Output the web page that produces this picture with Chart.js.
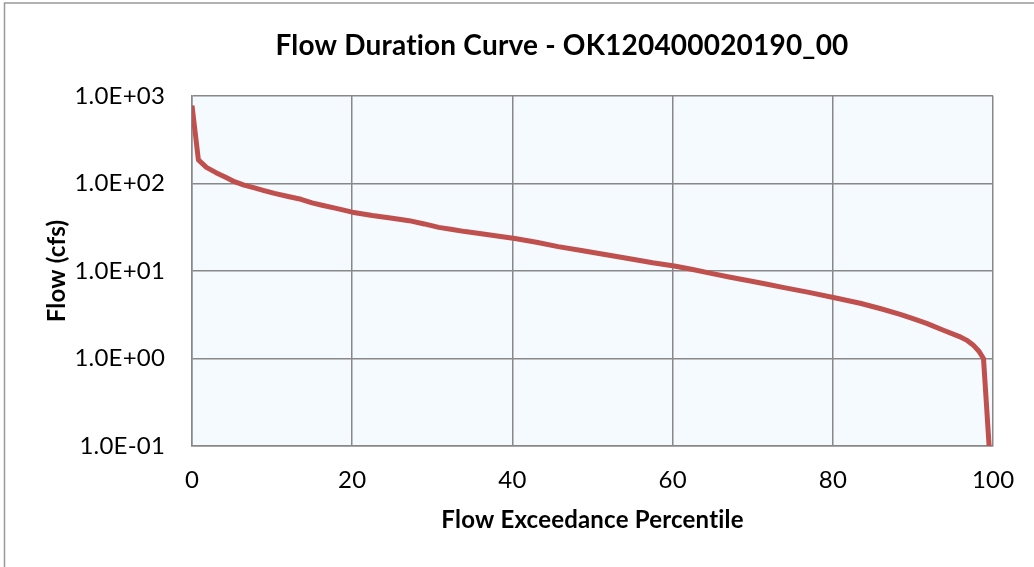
<!DOCTYPE html>
<html>
<head>
<meta charset="utf-8">
<script src="https://cdn.jsdelivr.net/npm/chart.js@4/dist/chart.umd.min.js"></script>
<style>
  html, body { margin: 0; padding: 0; background: #ffffff; }
  #wrap { width: 1034px; height: 567px; position: relative; }
</style>
</head>
<body>
<div id="wrap"><canvas id="c" width="1034" height="567"></canvas></div>
<script>
const chartTitle = 'Flow Duration Curve - OK120400020190_00';
const xAxisTitle = 'Flow Exceedance Percentile';
const yAxisTitle = 'Flow (cfs)';

const percentiles = [0, 0.8, 1.8, 3.0, 4.2, 5.3, 6.5, 7.8, 9.0, 10.3, 12.0, 13.6, 15.0, 16.1, 18.0, 20.0,
  22.5, 25.0, 27.1, 29.0, 30.8, 32.5, 34.1, 37.0, 40.3, 43.0, 45.7, 48.8, 51.9, 55.0, 57.5, 60.2,
  62.5, 64.8, 67.2, 69.7, 71.8, 73.9, 77.0, 80.5, 83.4, 86.0, 88.4, 90.0, 91.7, 93.8, 95.8, 96.8,
  97.5, 98.2, 98.8, 99.5];
const flows = [780, 186, 153, 133, 118, 105, 96, 89, 83, 77, 71, 66, 60, 56.8, 52, 47,
  43, 40, 37.6, 34.5, 31.5, 29.8, 28.2, 26, 23.5, 21.3, 19, 17, 15.2, 13.6, 12.4, 11.4,
  10.4, 9.4, 8.5, 7.7, 7.05, 6.45, 5.7, 4.88, 4.28, 3.7, 3.2, 2.85, 2.52, 2.1, 1.78, 1.6,
  1.43, 1.22, 1.0, 0.1];

const xTicks = [0, 20, 40, 60, 80, 100];
const yTicks = [0.1, 1, 10, 100, 1000];

const FONT = 'Lato, Carlito, Calibri, "Open Sans", sans-serif';
const GRID = '#888888';

function sci(v) {
  const e = Math.round(Math.log10(v));
  const m = v / Math.pow(10, e);
  const sign = e < 0 ? '-' : '+';
  const abs = Math.abs(e);
  return m.toFixed(1) + 'E' + sign + (abs < 10 ? '0' : '') + abs;
}

const plotBg = {
  id: 'plotBg',
  afterLayout(chart) {
    if (chart.titleBlock) chart.titleBlock.left = 127;
  },
  beforeDraw(chart) {
    const {ctx, chartArea: a} = chart;
    ctx.save();
    ctx.fillStyle = '#ffffff';
    ctx.fillRect(0, 0, chart.width, chart.height);
    ctx.strokeStyle = '#999999';
    ctx.lineWidth = 1.5;
    ctx.beginPath();
    ctx.moveTo(4.5, chart.height);
    ctx.lineTo(4.5, 3);
    ctx.lineTo(chart.width, 3);
    ctx.stroke();
    ctx.fillStyle = '#f5fafe';
    ctx.fillRect(a.left, a.top, a.right - a.left, a.bottom - a.top);
    ctx.restore();
    if ('letterSpacing' in ctx) ctx.letterSpacing = '0.2px';
  }
};

new Chart(document.getElementById('c'), {
  type: 'line',
  data: {
    datasets: [{
      data: percentiles.map((p, i) => ({x: p, y: flows[i]})),
      borderColor: '#c0504d',
      borderWidth: 5,
      pointRadius: 0,
      tension: 0,
      fill: false,
      borderJoinStyle: 'round',
      borderCapStyle: 'butt'
    }]
  },
  options: {
    responsive: false,
    animation: false,
    devicePixelRatio: 1,
    layout: { padding: { left: 0, right: 37, top: 0, bottom: 0 } },
    plugins: {
      legend: { display: false },
      tooltip: { enabled: false },
      title: {
        display: true,
        text: chartTitle,
        color: '#000000',
        font: { family: FONT, size: 28, weight: 'bold', lineHeight: 1.2 },
        padding: { top: 29, bottom: 33.4 }
      }
    },
    scales: {
      x: {
        type: 'linear',
        min: 0, max: 100,
        afterFit(s) { s.height = 121; },
        afterBuildTicks(s) { s.ticks = xTicks.map(v => ({value: v})); },
        ticks: {
          color: '#000000',
          font: { family: FONT, size: 24 },
          padding: 20,
          maxRotation: 0
        },
        grid: { color: GRID, lineWidth: 1.5, drawTicks: false },
        border: { display: true, color: GRID, width: 1.5 },
        title: {
          display: true,
          text: xAxisTitle,
          color: '#000000',
          font: { family: FONT, size: 24, weight: 'bold', lineHeight: 1.2 },
          padding: { top: 0, bottom: 32.6 }
        }
      },
      y: {
        type: 'logarithmic',
        min: 0.1, max: 1000,
        afterFit(s) { s.width = 192; },
        afterBuildTicks(s) { s.ticks = yTicks.map(v => ({value: v, major: true})); },
        ticks: {
          color: '#000000',
          font: { family: FONT, size: 24 },
          padding: 27,
          callback: (v) => sci(v)
        },
        grid: { color: GRID, lineWidth: 1.5, drawTicks: false },
        border: { display: true, color: GRID, width: 1.5 },
        title: {
          display: true,
          text: yAxisTitle,
          color: '#000000',
          font: { family: FONT, size: 24, weight: 'bold', lineHeight: 1.2 },
          padding: { top: 42.6, bottom: 0 }
        }
      }
    }
  },
  plugins: [plotBg]
});
</script>
</body>
</html>
